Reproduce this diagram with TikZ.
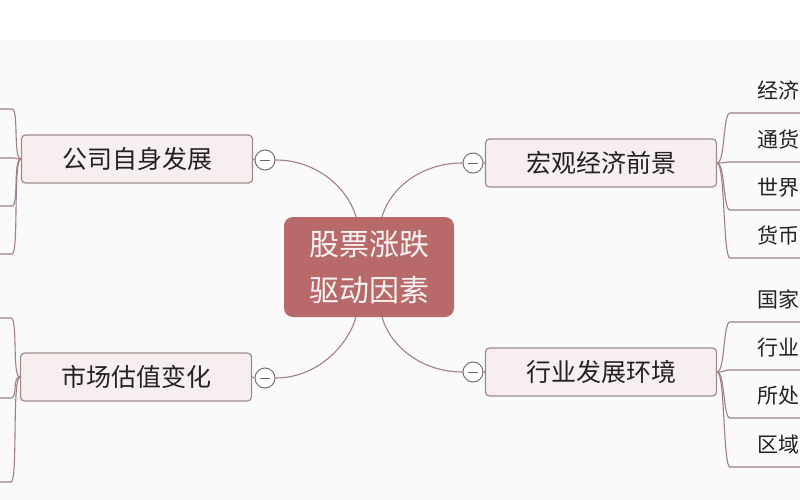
\documentclass[tikz,border=0pt]{standalone}
\usepackage{fontspec}
\setmainfont{Noto Sans CJK SC}
\usetikzlibrary{calc}
\definecolor{rootred}{HTML}{B86A6A}
\definecolor{boxpink}{HTML}{F7EFEF}
\definecolor{boxline}{HTML}{9E8A8A}
\definecolor{linkbrown}{HTML}{A08080}
\definecolor{pagegray}{HTML}{FAFAFA}
\definecolor{inkgray}{HTML}{222222}

\tikzset{
  root/.style={fill=rootred, rounded corners=9pt, minimum width=170pt, minimum height=100pt,
    inner sep=0pt, align=center, text=white!92!rootred, font=\fontsize{30pt}{46pt}\selectfont},
  topic/.style={fill=boxpink, draw=boxline, line width=1.2pt, rounded corners=4pt,
    minimum width=231pt, minimum height=48pt, inner sep=0pt, text=inkgray,
    font=\fontsize{25pt}{25pt}\selectfont},
  fold/.style={circle, draw=gray!90!black, fill=white, line width=1pt, minimum size=20pt, inner sep=0pt,
    path picture={\draw[gray!80!black, line width=1pt] ([xshift=-5pt]path picture bounding box.center)
      -- ([xshift=5pt]path picture bounding box.center);}},
  leaf/.style={anchor=south west, text width=60pt, align=left, inner xsep=27pt, inner ysep=0pt,
    minimum height=44pt, text=inkgray, font=\fontsize{21pt}{21pt}\selectfont},
  leafl/.style={anchor=south east, minimum width=80pt, minimum height=44pt, inner sep=0pt},
  link/.style={draw=linkbrown, line width=1.1pt},
}

\begin{document}
\begin{tikzpicture}[x=1pt, y=-1pt]
  \fill[white] (0,0) rectangle (800,500);
  \fill[pagegray] (0,40) rectangle (800,500);
  \useasboundingbox (0,0) rectangle (800,500);

  % centre
  \node[root] (root) at (369,267) {股票涨跌\\驱动因素};

  % main topics
  \node[topic] (ga) at (137,159) {公司自身发展};
  \node[topic] (gb) at (136,377) {市场估值变化};
  \node[topic] (mh) at (601,163) {宏观经济前景};
  \node[topic] (ih) at (601,372) {行业发展环境};

  \node[fold] (fa) at (265,160) {};
  \node[fold] (fb) at (265,378) {};
  \node[fold] (fm) at (473,163) {};
  \node[fold] (fi) at (473,372) {};

  \draw[link] (ga.east) -- (fa.west);
  \draw[link] (gb.east) -- (fb.west);
  \draw[link] (mh.west) -- (fm.east);
  \draw[link] (ih.west) -- (fi.east);

  % curves into the centre
  \draw[link] (fa.east) .. controls +(42,0) and +(-8,-28) .. ($(root.north)+(-13,0)$);
  \draw[link] (fb.east) .. controls +(42,0) and +(-8,28) .. ($(root.south)+(-13,0)$);
  \draw[link] (fm.west) .. controls +(-42,0) and +(8,-28) .. ($(root.north)+(13,0)$);
  \draw[link] (fi.west) .. controls +(-42,0) and +(8,28) .. ($(root.south)+(13,0)$);

  % right leaves
  \foreach \n/\y/\t in {1/113/经济, 2/162/通货, 3/210/世界, 4/258/货币} {
    \node[leaf] (m\n) at (730,\y) {\t};
    \draw[link] (mh.east) .. controls +(8,0) and +(-7,0) .. (m\n.south west) -- (m\n.south east);
  }
  \foreach \n/\y/\t in {1/322/国家, 2/370/行业, 3/418/所处, 4/467/区域} {
    \node[leaf] (i\n) at (730,\y) {\t};
    \draw[link] (ih.east) .. controls +(8,0) and +(-7,0) .. (i\n.south west) -- (i\n.south east);
  }

  % left leaves (cut off by the page edge)
  \foreach \n/\y in {1/109, 2/158, 3/206, 4/254} {
    \node[leafl] (a\n) at (12,\y) {};
    \draw[link] (a\n.south west) -- (a\n.south east) .. controls +(7,0) and +(-8,0) .. (ga.west);
  }
  \foreach \n/\y in {1/318, 2/398, 3/482} {
    \node[leafl] (b\n) at (11,\y) {};
    \draw[link] (b\n.south west) -- (b\n.south east) .. controls +(7,0) and +(-8,0) .. (gb.west);
  }
\end{tikzpicture}
\end{document}
